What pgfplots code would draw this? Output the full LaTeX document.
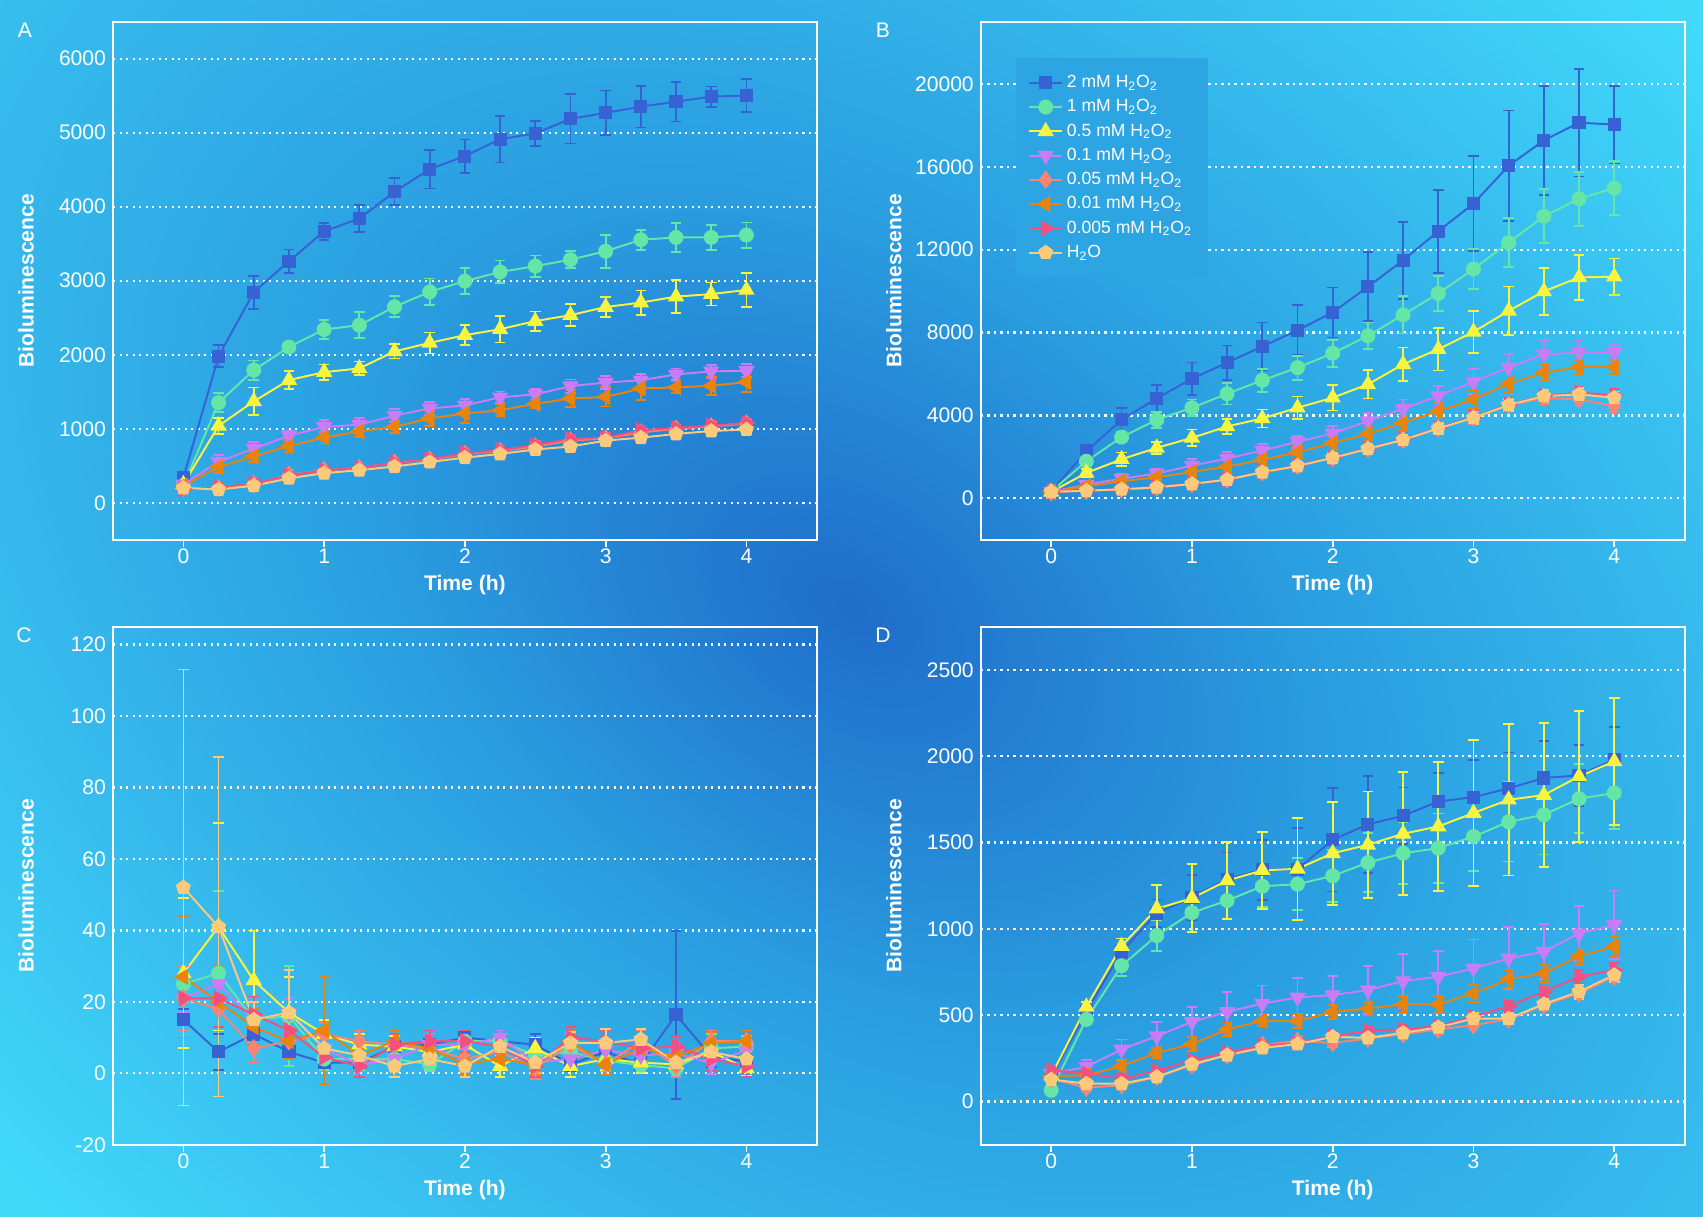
\documentclass[border=0pt]{standalone}
\usepackage{fontspec}
\setmainfont{Liberation Sans}
\usepackage{pgfplots}
\pgfplotsset{compat=1.18}
\usepackage{pgfplotstable}

\definecolor{c1}{HTML}{3762D4}
\definecolor{c2}{HTML}{66E6A6}
\definecolor{c3}{HTML}{F8F440}
\definecolor{c4}{HTML}{C97CF4}
\definecolor{c5}{HTML}{F98474}
\definecolor{c6}{HTML}{E8830C}
\definecolor{c7}{HTML}{F2507E}
\definecolor{c8}{HTML}{FDC97A}
\definecolor{bgA}{HTML}{1F6DCA}
\definecolor{bgB}{HTML}{2A9EE0}
\definecolor{bgC}{HTML}{42DAFB}
\definecolor{bgL}{HTML}{2DA5E3}
\pgfdeclareradialshading{bgshade}{\pgfpoint{0bp}{0bp}}{color(0bp)=(bgA); color(9bp)=(bgB); color(25bp)=(bgC); color(50bp)=(bgC)}

\pgfplotstableread{
t a b c d e f g h ea eb ec ed ee ef eg eh
0    340  230  250  250  200  230  180  200 40 40 40 40 30 40 40 40
0.25 1980 1352 1040 555  197  482  210  180 150 130 110 90 60 80 60 50
0.5  2845 1793 1370 730  250  627  260  230 223 130 187 90 60 80 60 50
0.75 3264 2104 1658 905  378  767  370  330 158 60 122 70 60 80 60 50
1    3668 2342 1765 1025 440  881  440  400 114 130 104 90 60 80 60 50
1.25 3839 2399 1815 1055 470  964  470  440 184 176 93 90 60 80 60 50
1.5  4202 2648 2045 1175 540  1026 540  490 181 142 96 90 60 80 60 50
1.75 4508 2850 2160 1275 580  1140 590  550 262 181 142 90 60 100 60 60
2    4684 2995 2265 1315 660  1207 670  610 225 176 137 90 70 130 70 60
2.25 4912 3119 2345 1425 700  1249 710  660 313 153 181 80 60 80 60 60
2.5  4990 3197 2455 1465 760  1337 780  720 166 145 130 70 60 60 60 60
2.75 5187 3285 2535 1575 840  1409 860  760 334 117 148 90 60 110 60 60
3    5269 3399 2645 1625 870  1430 880  840 300 223 135 90 60 130 60 60
3.25 5352 3554 2705 1655 950  1544 980  880 282 135 163 80 60 160 60 60
3.5  5420 3585 2785 1735 1000 1560 1010 930 267 197 225 80 60 80 60 60
3.75 5487 3585 2820 1775 1030 1580 1040 970 137 168 155 90 60 120 60 60
4    5503 3617 2875 1785 1070 1632 1080 990 223 171 231 90 60 140 60 60
}\tabA

\pgfplotstableread{
t a b c d e f g h ea eb ec ed ee ef eg eh
0    340 340 310 310 310 310 310 310 100 100 100 100 100 100 100 100
0.25 2270 1790 1226 660 370 580 370 370 320 240 200 200 150 200 150 150
0.5  3790 2952 1887 950 435 823 440 435 560 260 330 250 150 200 150 150
0.75 4823 3790 2435 1194 532 1016 540 532 645 390 300 250 150 200 150 150
1    5774 4371 2919 1580 694 1274 700 694 780 400 400 300 150 250 150 150
1.25 6548 5048 3468 1919 903 1532 910 903 830 520 360 300 200 250 200 200
1.5  7323 5694 3855 2306 1258 1855 1270 1258 1160 560 435 300 200 300 200 200
1.75 8113 6306 4371 2726 1565 2226 1580 1565 1210 580 540 300 200 300 200 200
2    8968 7000 4855 3129 1952 2661 1970 1952 1210 650 620 350 250 300 250 250
2.25 10210 7839 5500 3726 2387 3113 2400 2387 1670 650 685 400 250 350 250 250
2.5  11484 8855 6468 4323 2823 3645 2840 2823 1860 900 815 450 250 350 250 250
2.75 12887 9887 7194 4935 3371 4210 3400 3371 2000 830 1030 500 250 400 250 250
3    14226 11065 8032 5629 3887 4774 3900 3887 2290 970 1020 600 300 400 300 300
3.25 16048 12339 9048 6306 4500 5532 4530 4500 2670 1180 1170 650 300 400 300 300
3.5  17274 13613 9984 6952 4850 6065 4950 4935 2620 1300 1145 690 300 400 300 300
3.75 18129 14452 10661 7032 4774 6339 5097 5016 2600 1310 1090 580 300 350 300 300
4    18032 14968 10694 7016 4452 6339 4968 4855 1880 1300 880 400 300 350 300 300
}\tabB

\pgfplotstableread{
t a b c d e f g h ea eb ec ed ee ef eg eh
0    15 25 28 21 21 27 21 52 3 5 21 4 9 17 5 61
0.25 6 28 41 25 18 20 21 41 5 23 29 5 8 10 8 47.5
0.5  11 15 26 15 7 13 16.5 15 4 5 14 4 4 5 5 5
0.75 6 16 17 17 9 9 12 17 4 14 10 4 4 5 5 12
1    3 4 11 7 11 12 4.5 7 2 3 4 3 3 15 3 4
1.25 3 4 8 2.3 9 5 2 5 2 3 3 3 3 3 3 3
1.5  7.5 4 7.5 4 8 9 8 2 3 3 3 3 3 3 3 3
1.75 8 2.5 6 8 7 7 9 4 3 2 3 3 3 3 3 3
2    10 9 8 8 4 2.5 9 2 2 2 3 3 3 3 3 3
2.25 9 9 2 10 6 4 7.5 7.5 2 2 3 2 3 3 3 3
2.5  8 5 7 3 1.5 2.5 2 3 3 3 3 3 3 3 3 3
2.75 2.5 6 2 4 8 9 10 8.5 2 3 3 3 3 3 3 3
3    6 3.5 4 6.5 2.5 2.5 9 8.5 3 3 3 3 3 3 3 4
3.25 2.5 2.3 3 5 9 7 7 9.5 2 2 3 3 3 3 3 3
3.5  16.4 1.4 2.5 5.6 2 4.7 7.5 3 23.5 2 2 3 3 3 3 3
3.75 4.7 7 6 2.8 9 8.4 4 6 3 4 3 3 3 3 3 3
4    3.3 7.5 1.4 6.5 9 9 2 4 2 3 2 3 3 3 3 3
}\tabC

\pgfplotstableread{
t a b c d e f g h ea eb ec ed ee ef eg eh
0    143 66 150 162 133 147 182 128 20 20 20 20 20 20 20 20
0.25 520 476 549 201 81 153 162 104 30 30 30 39 20 30 20 20
0.5  868 787 901 302 95 205 133 104 40 60 43 58 20 30 20 20
0.75 1090 961 1117 379 143 282 178 143 80 90 137 83 20 30 20 20
1    1183 1094 1178 462 211 333 240 217 130 110 198 87 20 40 25 25
1.25 1288 1164 1280 520 269 418 282 269 155 110 222 116 25 40 25 25
1.5  1343 1247 1339 568 327 468 327 311 174 120 222 104 25 30 25 25
1.75 1346 1259 1348 603 352 466 336 333 238 150 295 114 25 40 25 25
2    1516 1307 1438 617 340 520 379 375 300 150 298 110 25 40 25 25
2.25 1605 1384 1487 646 365 539 410 369 280 170 309 139 25 40 25 25
2.5  1655 1438 1551 698 391 563 418 398 164 180 356 155 25 50 25 25
2.75 1738 1468 1593 723 418 563 437 430 165 200 374 151 25 50 25 25
3    1763 1535 1671 771 443 626 491 481 217 200 421 168 25 50 30 30
3.25 1814 1620 1748 829 476 710 553 481 208 230 438 180 25 50 30 30
3.5  1874 1661 1775 868 559 742 636 565 216 230 416 160 30 50 30 30
3.75 1889 1754 1883 974 626 843 723 636 178 200 379 159 30 50 40 40
4    1980 1787 1970 1023 723 897 762 733 187 210 369 199 30 60 40 40
}\tabD

\pgfplotsset{
  panel/.style={
    scale only axis, width=14.076cm, height=10.362cm,
    xmin=-0.5, xmax=4.5, xtick={0,1,2,3,4},
    scaled y ticks=false,
    axis line style={white, line width=1.1pt},
    tick align=outside, xtick pos=left, ytick pos=left,
    major tick length=4pt,
    xtick style={white, line width=1pt},
    ytick style={draw=none},
    ymajorgrids,
    major grid style={white, line width=1.3pt, dash pattern=on 1.3pt off 2.4pt},
    tick label style={white, font=\fontsize{12}{14}\selectfont},
    xticklabel style={yshift=2.5pt},
    yticklabel style={xshift=3.5pt},
    /pgf/number format/assume math mode=true,
    /pgf/number format/1000 sep={},
    xlabel={Time (h)}, ylabel={Bioluminescence},
    label style={white, font=\bfseries\fontsize{12}{14}\selectfont},
    xlabel style={at={(axis description cs:0.5,0)}, anchor=center, yshift=-26pt},
    ylabel style={at={(axis description cs:0,0.5)}, anchor=center, yshift=49.5pt},
    legend image code/.code={\draw[mark repeat=2,mark phase=2] plot coordinates {(0cm,0cm) (0.33cm,0cm) (0.66cm,0cm)};},
  },
  eb/.style={error bars/y dir=both, error bars/y explicit,
    error bars/error bar style={line width=1pt},
    error bars/error mark options={rotate=90, mark size=3pt, line width=1pt}},
  sa/.style={color=c1, mark=square*, mark size=3.2pt, line width=1.1pt, mark options={solid}},
  sb/.style={color=c2, mark=*, mark size=3.7pt, line width=1.1pt, mark options={solid}},
  sc/.style={color=c3, mark=triangle*, mark size=4.3pt, line width=1.1pt, mark options={solid}},
  sd/.style={color=c4, mark=triangle*, mark size=4.3pt, line width=1.1pt, mark options={solid, rotate=180}},
  se/.style={color=c5, mark=diamond*, mark size=4.4pt, line width=1.1pt, mark options={solid}},
  sf/.style={color=c6, mark=triangle*, mark size=4.3pt, line width=1.1pt, mark options={solid, rotate=90}},
  sg/.style={color=c7, mark=triangle*, mark size=4.3pt, line width=1.1pt, mark options={solid, rotate=-90}},
  sh/.style={color=c8, mark=pentagon*, mark size=3.8pt, line width=1.1pt, mark options={solid}},
}

\newcommand\allplots[1]{%
  \addplot[sa,eb] table[x=t,y=a,y error=ea]{#1};
  \addplot[sb,eb] table[x=t,y=b,y error=eb]{#1};
  \addplot[sc,eb] table[x=t,y=c,y error=ec]{#1};
  \addplot[sd,eb] table[x=t,y=d,y error=ed]{#1};
  \addplot[se,eb] table[x=t,y=e,y error=ee]{#1};
  \addplot[sf,eb] table[x=t,y=f,y error=ef]{#1};
  \addplot[sg,eb] table[x=t,y=g,y error=eg]{#1};
  \addplot[sh,eb] table[x=t,y=h,y error=eh]{#1};
}

\begin{document}
\begin{tikzpicture}
\useasboundingbox (0,0) rectangle (34.06,24.34);
\fill[bgC] (0,0) rectangle (34.06,24.34);
\begin{scope}
  \clip (0,0) rectangle (34.06,24.34);
  \begin{scope}[transform canvas={rotate around={-35.5:(17.03,12.17)}}]
    \shade[shading=bgshade] (-12.97,-7.83) rectangle (47.03,32.17);
  \end{scope}
\end{scope}

\node[white, font=\fontsize{12}{14}\selectfont] at (0.50,23.73) {A};
\node[white, font=\fontsize{12}{14}\selectfont] at (17.66,23.73) {B};
\node[white, font=\fontsize{12}{14}\selectfont] at (0.48,11.64) {C};
\node[white, font=\fontsize{12}{14}\selectfont] at (17.66,11.64) {D};

% Panel A
\begin{axis}[panel, at={(2.26cm,13.544cm)}, anchor=south west,
  ymin=-500, ymax=6500, ytick={0,1000,...,6000}]
  \allplots{\tabA}
\end{axis}

% Panel B
\begin{axis}[panel, at={(19.616cm,13.544cm)}, anchor=south west,
  ymin=-2000, ymax=23000, ytick={0,4000,...,20000},
  legend cell align=left,
  legend style={draw=none, fill=bgL, text=white, font=\fontsize{10}{12}\selectfont,
    at={(axis description cs:0,1)}, anchor=north west,
    xshift=19.8pt, yshift=-20.7pt, inner sep=7pt,
    nodes={inner sep=2.15pt, text height=7.5pt, text depth=2pt}}]
  \allplots{\tabB}
  \legend{{2 mM H\textsubscript{2}O\textsubscript{2}},
          {1 mM H\textsubscript{2}O\textsubscript{2}},
          {0.5 mM H\textsubscript{2}O\textsubscript{2}},
          {0.1 mM H\textsubscript{2}O\textsubscript{2}},
          {0.05 mM H\textsubscript{2}O\textsubscript{2}},
          {0.01 mM H\textsubscript{2}O\textsubscript{2}},
          {0.005 mM H\textsubscript{2}O\textsubscript{2}},
          {H\textsubscript{2}O}}
\end{axis}

% Panel C
\begin{axis}[panel, at={(2.26cm,1.444cm)}, anchor=south west,
  ymin=-20, ymax=125, ytick={-20,0,...,120}]
  \allplots{\tabC}
\end{axis}

% Panel D
\begin{axis}[panel, at={(19.616cm,1.444cm)}, anchor=south west,
  ymin=-250, ymax=2750, ytick={0,500,...,2500}]
  \allplots{\tabD}
\end{axis}
\end{tikzpicture}
\end{document}
